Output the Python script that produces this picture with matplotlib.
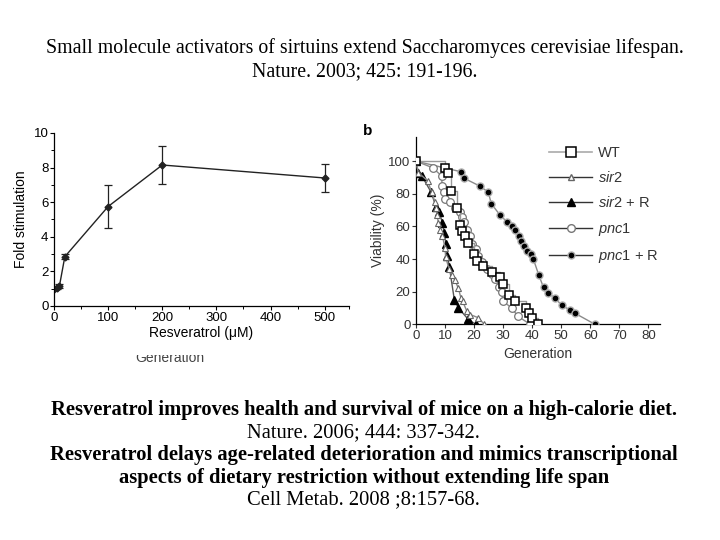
import matplotlib
matplotlib.use('Agg')
import matplotlib.pyplot as plt
from matplotlib.lines import Line2D
from matplotlib.transforms import Bbox, TransformedBbox

# ---------------- data ----------------
# panel a: fold stimulation vs resveratrol
conc = [0, 5, 10, 20, 100, 200, 500]
fold = [1.0, 1.05, 1.15, 2.85, 5.75, 8.15, 7.4]
fold_err = [0.05, 0.08, 0.1, 0.15, 1.25, 1.07, 0.8]

# panel b: viability vs generation
wt_gen = [0, 10, 11, 12, 14, 15, 16, 17, 18, 20, 21, 23, 26, 29, 30, 32, 34, 38, 39, 40, 42]
wt_via = [100, 96, 93, 82, 71, 61, 57, 54, 50, 43, 39, 36, 32, 29, 25, 18, 14, 10, 7, 4, 0]

sir2_gen = [0, 0.8, 4, 5.4, 6.5, 6.9, 7.3, 7.7, 8.3, 9.1, 10, 10.2, 11.4, 12.3, 13.4, 14.6,
            15.5, 16.1, 17.5, 18.6, 21.5, 23.5]
sir2_via = [100, 93, 88, 81, 75, 71, 67, 62, 58, 54, 47, 41, 34, 30, 27, 22,
            16, 14, 8, 6, 4, 0]

sir2r_gen = [0, 0.8, 2, 5.2, 6.9, 8, 9.1, 9.8, 10.3, 10.8, 11.5, 13.2, 14.6, 18, 20.5]
sir2r_via = [100, 93, 91, 81, 72, 69, 62, 56, 49, 42, 35, 15, 10, 3, 0]

pnc1_gen = [0, 5.7, 8.8, 9, 9.8, 10, 11.7, 13.4, 15, 15.7, 16.6, 17.5, 18.6, 19.4, 20.5,
            21.5, 22.6, 24.3, 26, 27.2, 28.7, 29.5, 30, 33, 35, 39.3]
pnc1_via = [100, 96, 91, 85, 81, 77, 75, 71, 69, 66, 63, 58, 54, 49, 46,
            42, 38, 34, 31, 28, 23, 20, 14, 10, 5, 0]

pnc1r_gen = [0, 15.5, 16.6, 22, 24.9, 25.9, 28.9, 31.2, 32.9, 34, 35.6, 36.3, 37.3, 38.3,
             39.5, 40.4, 42.3, 43.9, 45.6, 47.9, 50.1, 53, 54.8, 61.6]
pnc1r_via = [100, 93.5, 89.5, 84.7, 81, 74, 67, 63, 60, 58, 54, 51, 48, 45,
             43, 40, 30, 22.6, 19, 16, 11.8, 8.7, 6.7, 0]

legend_labels = ['WT', '$\\it{sir2}$', '$\\it{sir2}$ + R', '$\\it{pnc1}$', '$\\it{pnc1}$ + R']

TOP_LINES = ['Small molecule activators of sirtuins extend Saccharomyces cerevisiae lifespan.',
             'Nature. 2003; 425: 191-196.']
BOTTOM_LINES = [('Resveratrol improves health and survival of mice on a high-calorie diet.', 'bold'),
                ('Nature. 2006; 444: 337-342.', 'normal'),
                ('Resveratrol delays age-related deterioration and mimics transcriptional', 'bold'),
                ('aspects of dietary restriction without extending life span', 'bold'),
                ('Cell Metab. 2008 ;8:157-68.', 'normal')]

SERIF = 'Liberation Serif'
SANS = 'Liberation Sans'

plt.rcParams['mathtext.fontset'] = 'custom'
plt.rcParams['mathtext.rm'] = 'Liberation Sans'
plt.rcParams['mathtext.it'] = 'Liberation Sans:italic'

fig = plt.figure(figsize=(7.2, 5.4), dpi=100)
fig.patch.set_facecolor('white')

# ---------------- slide text ----------------
for i, line in enumerate(TOP_LINES):
    fig.text(0.507, 1 - (48 + 24 * i) / 540, line, ha='center', va='center',
             fontsize=14.3, family=SERIF)
for i, (line, w) in enumerate(BOTTOM_LINES):
    fig.text(0.505, 1 - (410 + 22.5 * i) / 540, line, ha='center', va='center',
             fontsize=14.8, family=SERIF, fontweight=w)

# ---------------- panel a ----------------
ax1 = fig.add_axes([54 / 720, 1 - 306 / 540, (349 - 54) / 720, (306 - 133) / 540])
ax1.errorbar(conc, fold, yerr=fold_err, color='#222222', lw=1.0, marker='D',
             markersize=3.5, capsize=3, elinewidth=0.9, capthick=0.9)
ax1.set_xlim(0, 545)
ax1.set_ylim(0, 10)
ax1.set_xticks([0, 100, 200, 300, 400, 500])
ax1.set_yticks([0, 2, 4, 6, 8, 10])
ax1.set_xticks([50, 150, 250, 350, 450, 545], minor=True)
ax1.set_yticks([1, 3, 5, 7, 9], minor=True)
ax1.tick_params(labelsize=9.5, length=3, width=0.8, pad=1)
ax1.tick_params(which='minor', length=2, width=0.7)
for lab in ax1.get_xticklabels() + ax1.get_yticklabels():
    lab.set_family(SANS)
for s in ['top', 'right']:
    ax1.spines[s].set_visible(False)
for s in ['left', 'bottom']:
    ax1.spines[s].set_linewidth(0.9)
ax1.set_xlabel('Resveratrol (\u03bcM)', fontsize=10, family=SANS, labelpad=2)
ax1.set_ylabel('Fold stimulation', fontsize=10, family=SANS, labelpad=4)

# cropped leftover label under panel a
ghost = fig.text(170 / 720, 1 - 358 / 540, 'Generation', ha='center', va='center',
                 fontsize=10, family=SANS, color='#444444')
ghost.set_clip_box(TransformedBbox(Bbox.from_extents(0, 0, 1, 1 - 355 / 540), fig.transFigure))

# ---------------- panel b ----------------
ax2 = fig.add_axes([416 / 720, 1 - 324.3 / 540, (660 - 416) / 720, (324.3 - 136.7) / 540])
gray = '#8a8a8a'
ax2.plot(pnc1r_gen, pnc1r_via, color=gray, lw=1.0, marker='o', markersize=5,
         markerfacecolor='black', markeredgecolor='#aaaaaa', markeredgewidth=1.0, zorder=3)
ax2.plot(pnc1_gen, pnc1_via, color=gray, lw=1.0, marker='o', markersize=5.5,
         markerfacecolor='white', markeredgecolor='#777777', markeredgewidth=0.9, zorder=4)
ax2.plot(wt_gen, wt_via, color='#999999', lw=1.0, marker='s', markersize=6,
         markerfacecolor='white', markeredgecolor='black', markeredgewidth=1.1, zorder=5,
         drawstyle='steps-post')
ax2.plot(sir2_gen, sir2_via, color=gray, lw=1.0, marker='^', markersize=5,
         markerfacecolor='white', markeredgecolor='#666666', markeredgewidth=0.8, zorder=4)
ax2.plot(sir2r_gen, sir2r_via, color='#555555', lw=1.0, marker='^', markersize=5.5,
         markerfacecolor='black', markeredgecolor='black', zorder=3)
ax2.set_xlim(0, 84)
ax2.set_ylim(0, 115)
ax2.set_xticks(range(0, 81, 10))
ax2.set_yticks(range(0, 101, 20))
ax2.tick_params(labelsize=9.5, length=3, width=0.8, pad=1, colors='#333333')
for lab in ax2.get_xticklabels() + ax2.get_yticklabels():
    lab.set_family(SANS)
for s in ['top', 'right']:
    ax2.spines[s].set_visible(False)
for s in ['left', 'bottom']:
    ax2.spines[s].set_linewidth(0.9)
ax2.set_xlabel('Generation', fontsize=10, family=SANS, color='#333333', labelpad=4)
ax2.set_ylabel('Viability (%)', fontsize=10, family=SANS, color='#333333', labelpad=2)
fig.text(368 / 720, 1 - 131 / 540, 'b', ha='center', va='center', fontsize=11,
         fontweight='bold', family=SANS)

handles = [
    Line2D([0], [0], color='#aaaaaa', lw=1.2, marker='s', markersize=6.5,
           markerfacecolor='white', markeredgecolor='black', markeredgewidth=1.1),
    Line2D([0], [0], color='#333333', lw=1.0, marker='^', markersize=4.5,
           markerfacecolor='white', markeredgecolor='#666666'),
    Line2D([0], [0], color='#333333', lw=1.0, marker='^', markersize=6,
           markerfacecolor='black', markeredgecolor='black'),
    Line2D([0], [0], color='#333333', lw=1.0, marker='o', markersize=5.5,
           markerfacecolor='white', markeredgecolor='#777777'),
    Line2D([0], [0], color='#333333', lw=1.0, marker='o', markersize=5,
           markerfacecolor='black', markeredgecolor='#aaaaaa'),
]
leg = ax2.legend(handles, legend_labels, loc='upper left', bbox_to_anchor=(0.49, 1.02),
                 frameon=False, handlelength=3.0, handletextpad=0.4, labelspacing=0.7,
                 prop={'family': SANS, 'size': 10.5})
for t in leg.get_texts():
    t.set_color('#333333')

fig.savefig('out.png', dpi=100, facecolor='white')
